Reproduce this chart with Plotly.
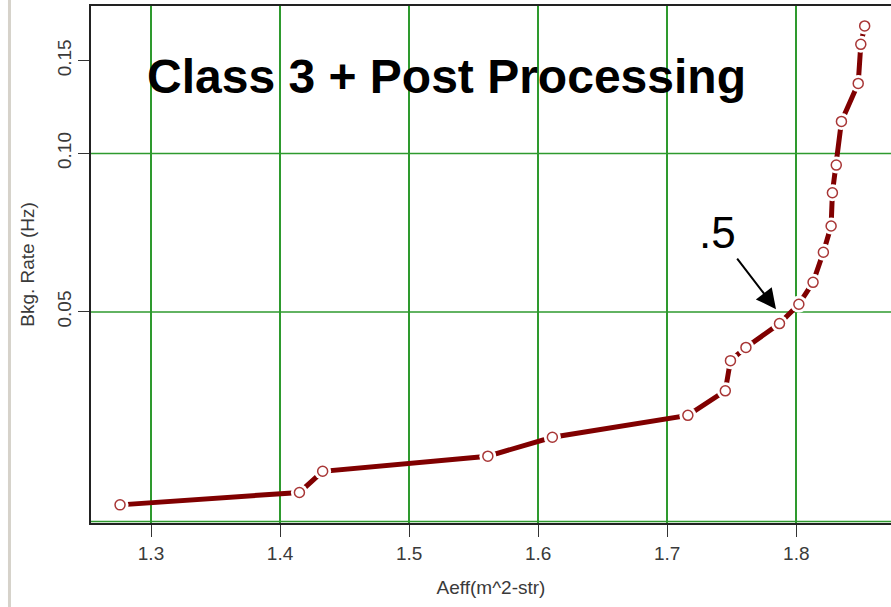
import math
import plotly.graph_objects as go

# Effective area vs background rate, class 3 events after post processing
aeff = [1.276, 1.415, 1.433, 1.561, 1.611, 1.716, 1.745, 1.749, 1.761, 1.787,
        1.802, 1.813, 1.821, 1.827, 1.828, 1.831, 1.835, 1.848, 1.850, 1.853]
rate = [0.0215, 0.0227, 0.0249, 0.0266, 0.0289, 0.0318, 0.0354, 0.0404, 0.0428, 0.0475,
        0.0517, 0.0569, 0.0649, 0.0728, 0.0842, 0.0950, 0.1150, 0.1358, 0.1611, 0.1746]

x_ticks = [1.3, 1.4, 1.5, 1.6, 1.7, 1.8]
x_tick_text = ["1.3", "1.4", "1.5", "1.6", "1.7", "1.8"]
y_ticks = [0.05, 0.10, 0.15]
y_tick_text = ["0.05", "0.10", "0.15"]
y_grid = [0.02, 0.05, 0.10]

# cut point marked on the curve
mark_label = ".5"
mark_aeff, mark_rate = 1.7843, 0.0506

title = "Class 3 + Post Processing"
FONT = "Liberation Sans, Arial, sans-serif"
GRID = "#2e9a2e"
LINE = "#800000"
MARK = "#a83636"
X_RANGE = [1.2535, 1.8734]

fig = go.Figure()

# horizontal grid lines at selected rates
for g in y_grid:
    fig.add_trace(go.Scatter(x=X_RANGE, y=[g, g], mode="lines",
                             line=dict(color=GRID, width=1.5), hoverinfo="skip"))

# thick connecting curve
fig.add_trace(go.Scatter(x=aeff, y=rate, mode="lines",
                         line=dict(color=LINE, width=5), hoverinfo="skip"))
# white ring around each point so the curve breaks before the symbol
fig.add_trace(go.Scatter(x=aeff, y=rate, mode="markers",
                         marker=dict(symbol="circle", size=17, color="white",
                                     line=dict(width=0)), hoverinfo="skip"))
# open circle symbols
fig.add_trace(go.Scatter(x=aeff, y=rate, mode="markers",
                         marker=dict(symbol="circle", size=10, color="white",
                                     line=dict(color=MARK, width=1.5))))

fig.update_layout(
    width=891, height=607,
    margin=dict(l=91, r=0, t=6, b=84),
    paper_bgcolor="white", plot_bgcolor="white",
    showlegend=False,
    font=dict(family=FONT, color="#3a3a3a"),
    xaxis=dict(
        range=X_RANGE,
        tickmode="array", tickvals=x_ticks, ticktext=x_tick_text,
        ticks="outside", ticklen=12, tickwidth=1, tickcolor="#333",
        tickfont=dict(size=19, color="#3a3a3a"),
        showline=True, linecolor="#222", linewidth=1.5, mirror=True,
        showgrid=True, gridcolor=GRID, gridwidth=1.5,
        zeroline=False,
        title=dict(text="Aeff(m^2-str)", font=dict(size=19, color="#3a3a3a"), standoff=18),
    ),
    yaxis=dict(
        type="log",
        range=[-1.702, -0.7201],
        tickmode="array", tickvals=y_ticks, ticktext=y_tick_text,
        tickangle=-90,
        ticks="outside", ticklen=11, tickwidth=1, tickcolor="#333",
        tickfont=dict(size=19, color="#3a3a3a"),
        showline=True, linecolor="#222", linewidth=1.5, mirror=False,
        showgrid=False,
        zeroline=False,
        title=dict(text="Bkg. Rate (Hz)", font=dict(size=19, color="#3a3a3a"), standoff=14),
    ),
)

# heading inside the plot
fig.add_annotation(text=f"<b>{title}</b>", xref="paper", yref="paper",
                   x=0.4444, y=0.8645, xanchor="center", yanchor="middle",
                   showarrow=False, font=dict(size=48, color="black", family=FONT))

# label and arrow pointing at the cut point
fig.add_annotation(text=mark_label, xref="paper", yref="paper",
                   x=0.7825, y=0.5626, xanchor="center", yanchor="middle",
                   showarrow=False, font=dict(size=44, color="black", family=FONT))
fig.add_annotation(text="", x=mark_aeff, y=math.log10(mark_rate),
                   xref="x", yref="y", showarrow=True,
                   ax=-40, ay=-52, arrowhead=2, arrowsize=2, arrowwidth=2,
                   arrowcolor="black")

# page border on the left
fig.add_shape(type="line", xref="paper", yref="paper",
              x0=-0.1019, x1=-0.1019, y0=-0.2, y1=1.05,
              line=dict(color="#d6d2ca", width=3))

fig.write_html("out.html")
